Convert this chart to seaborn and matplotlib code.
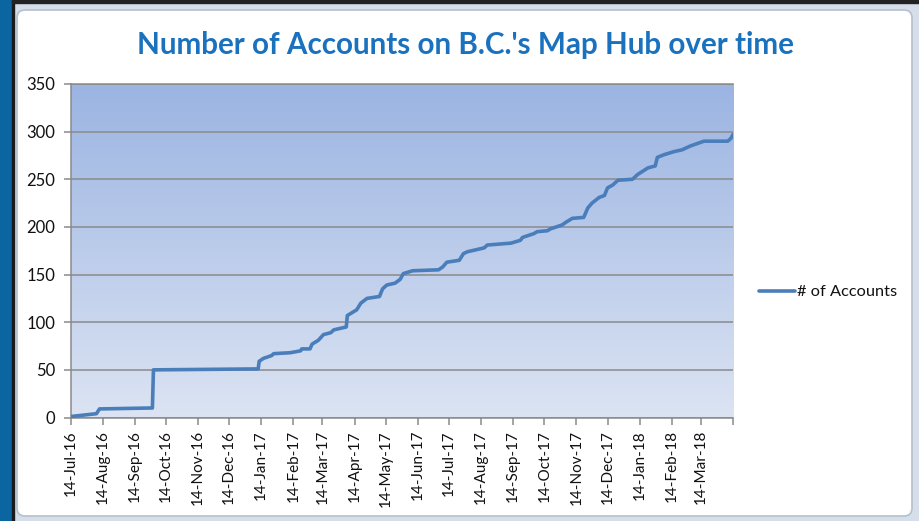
import numpy as np
import pandas as pd
import seaborn as sns
import matplotlib.pyplot as plt
from matplotlib.patches import Rectangle, FancyBboxPatch
from matplotlib.colors import LinearSegmentedColormap
from matplotlib.transforms import IdentityTransform

# values
dates = [
    "2016-07-14", "2016-08-08", "2016-08-11", "2016-10-01", "2016-10-02",
    "2017-01-11", "2017-01-12", "2017-01-16", "2017-01-24", "2017-01-26",
    "2017-02-11", "2017-02-21", "2017-02-22", "2017-03-02", "2017-03-04",
    "2017-03-10", "2017-03-15", "2017-03-22", "2017-03-25", "2017-04-06",
    "2017-04-07", "2017-04-13", "2017-04-16", "2017-04-20", "2017-04-26",
    "2017-05-08", "2017-05-11", "2017-05-15", "2017-05-23", "2017-05-28",
    "2017-05-31", "2017-06-09", "2017-07-04", "2017-07-08", "2017-07-12",
    "2017-07-24", "2017-07-28", "2017-08-01", "2017-08-17", "2017-08-20",
    "2017-09-12", "2017-09-21", "2017-09-23", "2017-10-04", "2017-10-07",
    "2017-10-17", "2017-10-20", "2017-10-31", "2017-11-04", "2017-11-10",
    "2017-11-21", "2017-11-25", "2017-11-29", "2017-12-06", "2017-12-11",
    "2017-12-14", "2017-12-19", "2017-12-24", "2018-01-07", "2018-01-12",
    "2018-01-22", "2018-01-29", "2018-01-31", "2018-02-07", "2018-02-16",
    "2018-02-24", "2018-03-04", "2018-03-17", "2018-04-09", "2018-04-12",
    "2018-04-14",
]
accounts = [
    1, 4, 9, 10, 50,
    51, 59, 62, 65, 67,
    68, 70, 72, 72, 77,
    81, 87, 89, 92, 95,
    107, 111, 113, 120, 125,
    127, 135, 139, 141, 145,
    151, 154, 155, 158, 163,
    165, 172, 174, 178, 181,
    183, 186, 189, 193, 195,
    196, 198, 202, 205, 209,
    210, 220, 225, 231, 233,
    241, 244, 249, 250, 255,
    262, 264, 273, 276, 279,
    281, 285, 290, 290, 293,
    297,
]
tick_dates = pd.date_range("2016-07-01", "2018-04-01", freq="MS") + pd.Timedelta(days=13)
y_ticks = [0, 50, 100, 150, 200, 250, 300, 350]

df = pd.DataFrame({"date": pd.to_datetime(dates), "accounts": accounts})

sns.set_style("white")
plt.rcParams["font.family"] = ["Lato", "DejaVu Sans"]

W, H = 919, 521
fig = plt.figure(figsize=(W / 100, H / 100), dpi=100)
fig.patch.set_facecolor("#d6dfe9")

# screenshot frame around the chart (drawn under the axes)
frame = [
    Rectangle((0, 0), 12, H, color="#0a65a0"),
    Rectangle((12, 0), 1.5, H, color="#1b1b1b"),
    Rectangle((12, H - 3), W, 3, color="#222222"),
    FancyBboxPatch((17, 5), 895, 506, boxstyle="round,pad=0,rounding_size=8",
                   facecolor="white", edgecolor="#b5c0cc", linewidth=1.2),
]
for p in frame:
    p.set_transform(IdentityTransform())
    p.set_zorder(-10)
    fig.patches.append(p)

ax = fig.add_axes([70.5 / W, 1 - 417.5 / H, (733 - 70.5) / W, (417.5 - 84) / H])
ax.set_zorder(1)

sns.lineplot(data=df, x="date", y="accounts", ax=ax, color="#4a7ebb",
             linewidth=2.6, label="# of Accounts", zorder=3)

# gradient plot area fill
cmap = LinearSegmentedColormap.from_list("excel", ["#dce4f3", "#9bb4e2"])
grad = np.linspace(1, 0, 256).reshape(-1, 1)
ax.imshow(grad, cmap=cmap, extent=[0, 1, 0, 1], transform=ax.transAxes,
          aspect="auto", zorder=0, vmin=0, vmax=1)

ax.set_xlim(pd.Timestamp("2016-07-14"), pd.Timestamp("2018-04-14"))
ax.set_ylim(0, 350)
ax.set_yticks(y_ticks)
ax.set_xticks(tick_dates)
labels = [d.strftime("%d-%b-%y") for d in tick_dates]
labels[-1] = ""
ax.set_xticklabels(labels, rotation=90)
ax.set_xlabel("")
ax.set_ylabel("")

ax.yaxis.grid(True, color="#8a8a8a", linewidth=1.1)
ax.xaxis.grid(False)
ax.set_axisbelow(True)
for side in ["left", "bottom", "top"]:
    ax.spines[side].set_visible(True)
    ax.spines[side].set_color("#8a8a8a")
    ax.spines[side].set_linewidth(1.1)
ax.spines["right"].set_visible(False)
ax.tick_params(axis="both", direction="out", length=5, width=1.1, color="#8a8a8a",
               labelcolor="#111111")
ax.tick_params(axis="y", pad=6, labelsize=12)
ax.tick_params(axis="x", pad=4, labelsize=11)
ax.tick_params(axis="both", which="both", bottom=True, left=True)

ax.legend(loc="center left", bbox_to_anchor=(759 / W, 1 - 292 / H),
          bbox_transform=fig.transFigure, frameon=False, fontsize=11.8,
          handlelength=2.2, handletextpad=0.1, borderpad=0, borderaxespad=0,
          labelcolor="#111111")

fig.text(465 / W, 1 - 45 / H, "Number of Accounts on B.C.'s Map Hub over time",
         ha="center", va="center", fontsize=21.3, fontweight="bold", color="#1a72bf")

fig.savefig("out.png", dpi=100)
